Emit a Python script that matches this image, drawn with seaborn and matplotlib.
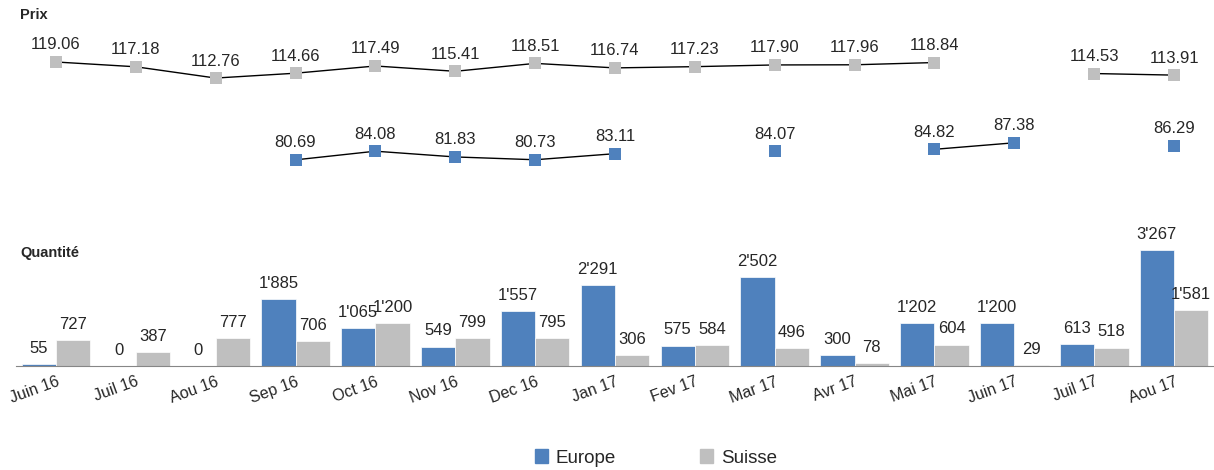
import numpy as np
import pandas as pd
import matplotlib
matplotlib.use("Agg")
import matplotlib.pyplot as plt
import seaborn as sns
from matplotlib.patches import Patch

# data
months = ["Juin 16", "Juil 16", "Aou 16", "Sep 16", "Oct 16", "Nov 16", "Dec 16",
          "Jan 17", "Fev 17", "Mar 17", "Avr 17", "Mai 17", "Juin 17", "Juil 17", "Aou 17"]
prix_suisse = [119.06, 117.18, 112.76, 114.66, 117.49, 115.41, 118.51, 116.74,
               117.23, 117.90, 117.96, 118.84, np.nan, 114.53, 113.91]
prix_europe = [np.nan, np.nan, np.nan, 80.69, 84.08, 81.83, 80.73, 83.11,
               np.nan, 84.07, np.nan, 84.82, 87.38, np.nan, 86.29]
qty_europe = [55, 0, 0, 1885, 1065, 549, 1557, 2291, 575, 2502, 300, 1202, 1200, 613, 3267]
qty_suisse = [727, 387, 777, 706, 1200, 799, 795, 306, 584, 496, 78, 604, 29, 518, 1581]

blue = "#4F81BD"
grey = "#BFBFBF"

sns.set_style("white")
plt.rcParams["font.family"] = ["Liberation Sans", "DejaVu Sans"]

fig = plt.figure(figsize=(12.14, 4.70), dpi=100)
W, H = 1214, 470
ax_p = fig.add_axes([16 / W, (H - 175) / H, 1198 / W, 145 / H])
ax_q = fig.add_axes([16 / W, (H - 366) / H, 1198 / W, 126 / H])

# ---- Prix (top panel) ----
x = np.arange(len(months))
for vals, col in [(prix_suisse, grey), (prix_europe, blue)]:
    ax_p.plot(x, vals, color="black", lw=1, zorder=1)  # NaN breaks the line
    pts = pd.DataFrame({"x": x, "y": vals}).dropna()
    sns.scatterplot(data=pts, x="x", y="y", marker="s", s=70, color=col,
                    edgecolor=col, linewidth=0, ax=ax_p, zorder=2)
    for xi, yi in zip(pts["x"], pts["y"]):
        ax_p.annotate(f"{yi:.2f}", (xi, yi), xytext=(0, 9), textcoords="offset points",
                      ha="center", va="baseline", fontsize=12)
ax_p.set_xlim(-0.5, 14.5)
ax_p.set_ylim(74.75, 131.6)
ax_p.axis("off")

# ---- Quantité (bottom panel) ----
df = pd.DataFrame({
    "month": months * 2,
    "qty": qty_europe + qty_suisse,
    "region": ["Europe"] * len(months) + ["Suisse"] * len(months),
})
sns.barplot(data=df, x="month", y="qty", hue="region", order=months,
            palette={"Europe": blue, "Suisse": grey}, width=0.86, saturation=1,
            edgecolor="white", linewidth=0.5, ax=ax_q, legend=False)
for cont in ax_q.containers:
    for bar in cont:
        h = bar.get_height()
        ax_q.annotate(f"{int(h):,}".replace(",", "'"),
                      (bar.get_x() + bar.get_width() / 2, h), xytext=(0, 8),
                      textcoords="offset points", ha="center", va="baseline", fontsize=12)
ax_q.set_xlim(-0.5, 14.5)
ax_q.set_ylim(0, 3549)
ax_q.set_xlabel("")
ax_q.set_ylabel("")
ax_q.set_yticks([])
for s in ["top", "right", "left"]:
    ax_q.spines[s].set_visible(False)
ax_q.spines["bottom"].set_color("#868686")
ax_q.set_xticks(x)
ax_q.set_xticks(np.arange(-0.5, 15, 1), minor=True)
ax_q.tick_params(axis="x", which="major", length=0, pad=6)
ax_q.tick_params(axis="x", which="minor", length=4, color="#868686", direction="out")
ax_q.set_xticklabels(months, rotation=20, ha="right", rotation_mode="anchor", fontsize=11.5)

# section titles
fig.text(20 / W, 1 - 15 / H, "Prix", fontsize=10.5, fontweight="bold", va="center")
fig.text(20 / W, 1 - 253 / H, "Quantité", fontsize=10.5, fontweight="bold", va="center")

# legend
handles = [Patch(color=blue, label="Europe"), Patch(color=grey, label="Suisse")]
fig.legend(handles=handles, loc="center", bbox_to_anchor=(656 / W, 1 - 458 / H), ncol=2,
           frameon=False, fontsize=13.5, handlelength=0.7, handleheight=0.7,
           handletextpad=0.4, columnspacing=4.5)

fig.savefig("out.png", dpi=100)
